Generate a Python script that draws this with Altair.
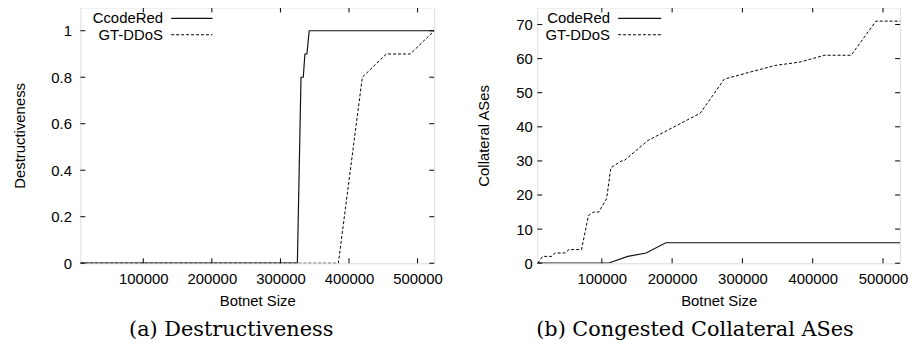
import altair as alt
import pandas as pd

X_MIN, X_MAX = 8192, 524288
X_TICKS = [100000, 200000, 300000, 400000, 500000]

# (a) Destructiveness
cr_a_x = [8192, 324700, 330000, 333300, 335700, 338600, 342000, 524288]
cr_a_y = [0, 0, 0.8, 0.8, 0.9, 0.9, 1.0, 1.0]
gt_a_x = [8192, 384473, 419430, 454383, 489335, 524288]
gt_a_y = [0, 0, 0.8, 0.9, 0.9, 1.0]
y_a_ticks = [0, 0.2, 0.4, 0.6, 0.8, 1]

# (b) Congested Collateral ASes
cr_b_x = [8192, 109000, 137000, 163000, 191000, 524288]
cr_b_y = [0, 0, 2, 3, 6, 6]
gt_b_x = [9000, 15700, 28800, 33600, 47700, 53300, 71100, 81000, 88000, 95600,
          106900, 112800, 128000, 131300, 165600, 193600, 240000, 274200,
          310000, 346700, 382000, 417200, 454700, 489900, 524288]
gt_b_y = [0, 2, 2, 3, 3, 4, 4, 14, 15, 15, 19, 28, 30, 30, 36, 39, 44, 54,
          56, 58, 59, 61, 61, 71, 71]
y_b_ticks = [0, 10, 20, 30, 40, 50, 60, 70]

legend_a = ["CcodeRed", "GT-DDoS"]
legend_b = ["CodeRed", "GT-DDoS"]

FONT = "Liberation Sans"
SERIF = "DejaVu Serif"
TICK = 5


def panel(cr_x, cr_y, gt_x, gt_y, y_ticks, y_max, ytitle, caption, names,
          w, h, label_pad, title_pad, leg_text_x, leg_line_x0, leg_line_x1, cap_dx):
    xscale = alt.Scale(domain=[X_MIN, X_MAX], nice=False, zero=False)
    yscale = alt.Scale(domain=[0, y_max], nice=False, zero=False)
    xaxis = alt.Axis(values=X_TICKS, format="d", ticks=False, domain=False,
                     grid=False, labelFont=FONT, labelFontSize=15,
                     labelColor="black", labelPadding=8, labelFlush=False,
                     labelOverlap=False, title="Botnet Size", titleFont=FONT,
                     titleFontSize=15, titleFontWeight="normal",
                     titleColor="black", titlePadding=8)
    yaxis = alt.Axis(values=y_ticks, labelExpr="'' + datum.value", ticks=False,
                     domain=False, grid=False, labelFont=FONT,
                     labelFontSize=15, labelColor="black",
                     labelPadding=label_pad, labelFlush=False,
                     labelOverlap=False, title=ytitle, titleFont=FONT,
                     titleFontSize=15, titleFontWeight="normal",
                     titleColor="black", titlePadding=title_pad)
    X = alt.X("x:Q", scale=xscale, axis=xaxis)
    Y = alt.Y("y:Q", scale=yscale, axis=yaxis)

    cr = alt.Chart(pd.DataFrame({"x": cr_x, "y": cr_y})).mark_line(
        color="#111111", strokeWidth=1.2, clip=True).encode(x=X, y=Y)
    gt = alt.Chart(pd.DataFrame({"x": gt_x, "y": gt_y})).mark_line(
        color="black", strokeWidth=1, strokeDash=[3, 2], clip=True).encode(x=X, y=Y)

    xt = pd.DataFrame({"x": X_TICKS})
    yt = pd.DataFrame({"y": y_ticks})
    xb = alt.Chart(xt).mark_rule(color="black").encode(
        x=X, y=alt.value(h), y2=alt.value(h - TICK))
    xtop = alt.Chart(xt).mark_rule(color="black").encode(
        x=X, y=alt.value(0), y2=alt.value(TICK))
    yl = alt.Chart(yt).mark_rule(color="black").encode(
        y=Y, x=alt.value(0), x2=alt.value(TICK))
    yr = alt.Chart(yt).mark_rule(color="black").encode(
        y=Y, x=alt.value(w - TICK), x2=alt.value(w))

    leg_y = [11, 27.5]
    lt1 = alt.Chart(pd.DataFrame({"t": [names[0]]})).mark_text(
        font=FONT, fontSize=15, align="right", baseline="middle",
        color="black").encode(text="t:N", x=alt.value(leg_text_x), y=alt.value(leg_y[0]))
    lt2 = alt.Chart(pd.DataFrame({"t": [names[1]]})).mark_text(
        font=FONT, fontSize=15, align="right", baseline="middle",
        color="black").encode(text="t:N", x=alt.value(leg_text_x), y=alt.value(leg_y[1]))
    ll1 = alt.Chart(pd.DataFrame({"t": [names[0]]})).mark_rule(
        color="#111111", strokeWidth=1.2).encode(
        x=alt.value(leg_line_x0), x2=alt.value(leg_line_x1), y=alt.value(leg_y[0]))
    ll2 = alt.Chart(pd.DataFrame({"t": [names[1]]})).mark_rule(
        color="black", strokeWidth=1, strokeDash=[3, 2]).encode(
        x=alt.value(leg_line_x0), x2=alt.value(leg_line_x1), y=alt.value(leg_y[1]))

    return alt.layer(cr, gt, xb, xtop, yl, yr, lt1, lt2, ll1, ll2).properties(
        width=w, height=h,
        title=alt.TitleParams(text=caption, orient="bottom", font=SERIF,
                              fontSize=21, fontWeight="normal", color="black",
                              frame="bounds", anchor="middle", offset=10,
                              dx=cap_dx))


left = panel(cr_a_x, cr_a_y, gt_a_x, gt_a_y, y_a_ticks, 1.1, "Destructiveness",
             "(a) Destructiveness", legend_a, 357, 258, 9, 24, 83.3, 91.7, 133.3, 4)
right = panel(cr_b_x, cr_b_y, gt_b_x, gt_b_y, y_b_ticks, 75, "Collateral ASes",
              "(b) Congested Collateral ASes", legend_b, 366, 258, 5, 25, 73.3, 81.6, 125, 3)

chart = alt.hconcat(left, right, spacing=32).properties(
    padding={"left": 3, "top": -3, "right": 0, "bottom": 0}
).configure_view(stroke="black", strokeWidth=1.3).configure(background="white")

chart.save("out.html", embed_options={"renderer": "svg", "actions": False})
